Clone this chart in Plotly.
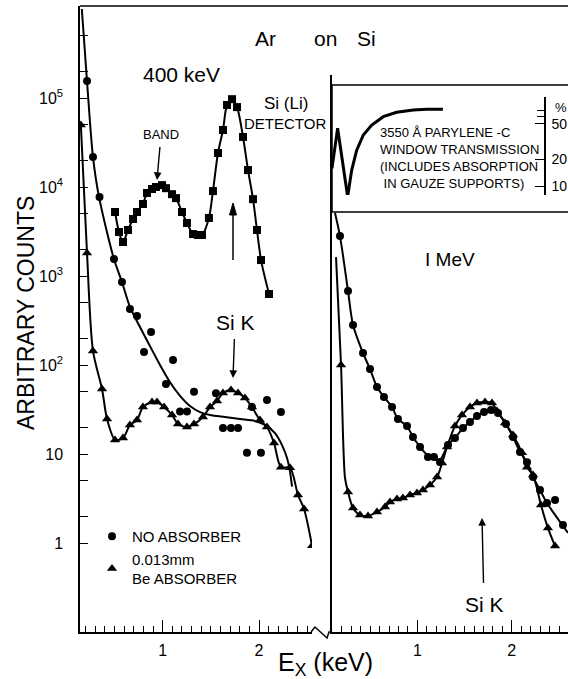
import plotly.graph_objects as go

W, H = 568, 679
FONT = "Liberation Sans"

# ---------------- data (400 keV panel) ----------------
# no absorber (circles)
l_circ_e = [0.214, 0.276, 0.344, 0.494, 0.577, 0.660, 0.733, 0.879, 0.806, 1.107, 1.034, 1.325,
            1.180, 1.252, 1.553, 1.626, 1.709, 1.782, 1.875, 2.020, 2.083, 2.228, 1.927]
l_circ_c = [1.55e5, 2.17e4, 7.7e3, 1.55e3, 857, 426, 355, 235, 140, 114, 61, 50,
            30, 30, 48, 19.6, 19.6, 19.6, 10.3, 10.3, 40.4, 29.6, 33.7]
# smooth fit through the no-absorber data
l_fit_e = [0.16, 0.214, 0.276, 0.339, 0.494, 0.577, 0.660, 0.764, 0.868, 0.972, 1.076, 1.180,
           1.283, 1.387, 1.491, 1.647, 1.803, 1.958, 2.062, 2.166, 2.239, 2.291, 2.322, 2.343]
l_fit_c = [1.0e6, 1.55e5, 2.17e4, 7.7e3, 1.55e3, 857, 449, 267, 163, 100, 64, 45,
           34.6, 29.6, 27.4, 26, 24.7, 23.5, 21.2, 17.2, 12.6, 9.0, 6.3, 4.3]
# 0.013 mm Be absorber (triangles)
l_tri_e = [0.15, 0.214, 0.276, 0.370, 0.422, 0.505, 0.588, 0.660, 0.733, 0.795, 0.889, 0.941,
           1.014, 1.097, 1.159, 1.252, 1.325, 1.418, 1.491, 1.564, 1.626, 1.709, 1.782, 1.854,
           1.927, 2.010, 2.083, 2.156, 2.228, 2.322, 2.405, 2.468, 2.551]
l_tri_c = [4.97e4, 1.81e3, 144, 53.7, 24.7, 14.4, 15.1, 21.2, 24.1, 33.7, 38.4, 38.4,
           33.7, 27.4, 21.7, 20.1, 21.7, 26, 33.7, 39.4, 48.5, 52.4, 48.5, 42.6,
           33.7, 24.1, 20.1, 13.3, 7.1, 7.0, 3.46, 2.41, 0.93]
# Si(Li) detector (squares)
det_e = [0.505, 0.546, 0.588, 0.640, 0.692, 0.733, 0.795, 0.837, 0.889, 0.930, 0.993, 1.034,
         1.097, 1.138, 1.200, 1.252, 1.315, 1.366, 1.408, 1.480, 1.522, 1.574, 1.626, 1.668,
         1.720, 1.772, 1.834, 1.886, 1.938, 1.979, 2.021, 2.104]
det_c = [5.24e3, 3.12e3, 2.41e3, 3.29e3, 4.37e3, 5.24e3, 6.44e3, 8.57e3, 9.5e3, 1.0e4, 1.05e4, 9.7e3,
         8.3e3, 7.5e3, 5.24e3, 3.94e3, 2.96e3, 2.89e3, 2.89e3, 4.49e3, 9.0e3, 2.41e4, 4.37e4, 8.35e4,
         9.7e4, 7.9e4, 3.65e4, 1.55e4, 7.3e3, 3.29e3, 1.51e3, 628]

# ---------------- data (1 MeV panel) ----------------
r_circ_e = [0.180, 0.265, 0.318, 0.424, 0.498, 0.572, 0.646, 0.731, 0.794, 0.890, 0.953, 1.028,
            1.112, 1.176, 1.239, 1.324, 1.398, 1.483, 1.557, 1.631, 1.706, 1.780, 1.854, 1.939,
            2.013, 2.087, 2.161, 2.225, 2.299, 2.373, 2.458, 2.542]
r_circ_c = [2.81e3, 678, 281, 136, 90, 56.6, 43.7, 33.7, 24.7, 20.6, 15.5, 12.0,
            9.26, 9.26, 8.13, 12.6, 15.1, 19.6, 22.9, 26.7, 29.6, 31.2, 28.9, 21.7,
            15.5, 10.5, 8.1, 5.5, 3.94, 2.81, 3.04, 1.59]
r_cfit_e = [0.127, 0.180, 0.265, 0.318, 0.424, 0.498, 0.572, 0.646, 0.731, 0.794, 0.890, 0.953,
            1.028, 1.112, 1.176, 1.239, 1.324, 1.398, 1.483, 1.557, 1.631, 1.706, 1.780, 1.854,
            1.939, 2.013, 2.087, 2.161, 2.225, 2.299, 2.373, 2.595]
r_cfit_c = [5.1e3, 2.81e3, 678, 281, 136, 90, 56.6, 43.7, 33.7, 24.7, 20.6, 15.5,
            12.0, 9.5, 8.8, 8.6, 12.6, 15.1, 19.6, 22.9, 26.7, 29.6, 31.2, 28.9,
            21.7, 15.5, 10.5, 8.1, 5.5, 3.94, 2.81, 1.3]
r_tri_e = [0.191, 0.265, 0.318, 0.392, 0.477, 0.572, 0.657, 0.710, 0.784, 0.847, 0.922, 0.996,
           1.059, 1.133, 1.208, 1.261, 1.314, 1.398, 1.472, 1.557, 1.631, 1.716, 1.790, 1.843,
           1.928, 2.013, 2.108, 2.161, 2.225, 2.309, 2.383, 2.458]
r_tri_c = [100, 3.74, 2.47, 2.06, 2.01, 2.23, 2.54, 2.89, 3.12, 3.2, 3.46, 3.65,
           3.94, 4.48, 5.5, 7.9, 12, 20.6, 27.4, 33.7, 37.4, 38.4, 37.4, 30.4,
           22.3, 16.3, 10.3, 7.1, 5.8, 2.67, 1.47, 0.925]
r_tfit_e = [0.138, 0.191, 0.233] + r_tri_e[1:]
r_tfit_c = [1.63e3, 100, 5.4] + r_tri_c[1:]

# ---------------- inset: window transmission (%) ----------------
trans_e = [0.095, 0.155, 0.261, 0.304, 0.357, 0.427, 0.516, 0.639, 0.78, 0.957, 1.10, 1.27]
trans_p = [15.8, 44.5, 7.6, 15.1, 25.3, 37.4, 48.4, 60.1, 67.3, 71.4, 72.8, 72.8]

y_major = [1, 10, 100, 1e3, 1e4, 1e5]
y_major_text = ["1", "10", "10<sup>2</sup>", "10<sup>3</sup>", "10<sup>4</sup>", "10<sup>5</sup>"]
y_minor = [2, 5, 20, 50, 200, 500, 2e3, 5e3, 2e4, 5e4, 2e5, 5e5]
x_major = [1, 2]
x_major_text = ["1", "2"]
t_ticks = [10, 20, 50]
t_text = ["10", "20", "50"]
t_minor = [60, 70]


def px(x):
    return x / W


def py(y):
    return 1 - y / H


K = "black"
fig = go.Figure()

mk_c = dict(symbol="circle", size=8, color=K)
mk_t = dict(symbol="triangle-up", size=9, color=K)
mk_s = dict(symbol="square", size=8, color=K)
ln = dict(color=K, width=2, shape="spline", smoothing=0.8)

# left panel
fig.add_trace(go.Scatter(x=l_fit_e, y=l_fit_c, mode="lines", line=ln, showlegend=False,
                         xaxis="x", yaxis="y"))
fig.add_trace(go.Scatter(x=l_tri_e, y=l_tri_c, mode="lines", line=ln, showlegend=False,
                         xaxis="x", yaxis="y"))
fig.add_trace(go.Scatter(x=det_e, y=det_c, mode="lines+markers", line=ln, marker=mk_s,
                         showlegend=False, xaxis="x", yaxis="y"))
fig.add_trace(go.Scatter(x=l_circ_e, y=l_circ_c, mode="markers", marker=mk_c,
                         name="NO ABSORBER", xaxis="x", yaxis="y"))
fig.add_trace(go.Scatter(x=l_tri_e, y=l_tri_c, mode="markers", marker=mk_t,
                         name="0.013mm<br>Be ABSORBER", xaxis="x", yaxis="y"))
# right panel
fig.add_trace(go.Scatter(x=r_cfit_e, y=r_cfit_c, mode="lines", line=ln, showlegend=False,
                         xaxis="x2", yaxis="y2"))
fig.add_trace(go.Scatter(x=r_tfit_e, y=r_tfit_c, mode="lines", line=ln, showlegend=False,
                         xaxis="x2", yaxis="y2"))
fig.add_trace(go.Scatter(x=r_circ_e, y=r_circ_c, mode="markers", marker=mk_c, showlegend=False,
                         xaxis="x2", yaxis="y2"))
fig.add_trace(go.Scatter(x=r_tri_e, y=r_tri_c, mode="markers", marker=mk_t, showlegend=False,
                         xaxis="x2", yaxis="y2"))
# inset
fig.add_trace(go.Scatter(x=trans_e, y=trans_p, mode="lines", line=dict(color=K, width=3),
                         showlegend=False, xaxis="x3", yaxis="y3"))

# geometry (pixels)
XL0, XL1 = 80, 312
XR0, XR1 = 332, 568
YB, YT = 632, 6
left_range = [(XL0 - 66.4) / 96.3, (XL1 - 66.4) / 96.3]
right_range = [(XR0 - 323) / 94.4, (XR1 - 323) / 94.4]

xcommon = dict(showline=True, linecolor=K, linewidth=1.5, ticks="inside", tickcolor=K,
               tickwidth=1.2, ticklen=12, tickvals=x_major, ticktext=x_major_text,
               showgrid=False, zeroline=False, automargin=False,
               tickfont=dict(family=FONT, size=16, color=K), ticklabelstandoff=3,
               minor=dict(dtick=0.1, tick0=0, ticks="inside", ticklen=6, tickcolor=K,
                          tickwidth=1.2, showgrid=False))

fig.update_layout(
    width=W, height=H, autosize=False,
    margin=dict(l=0, r=0, t=0, b=0),
    paper_bgcolor="white", plot_bgcolor="rgba(0,0,0,0)",
    font=dict(family=FONT, color=K),
    hovermode=False,
    xaxis=dict(domain=[px(XL0), px(XL1)], range=left_range, anchor="y", **xcommon),
    xaxis2=dict(domain=[px(XR0), px(XR1)], range=right_range, anchor="y2", **xcommon),
    yaxis=dict(domain=[py(YB), py(YT)], type="log", range=[-1, -1 + (YB - YT) / 89],
               anchor="x", showline=True, linecolor=K, linewidth=1.5, ticks="inside",
               tickcolor=K, tickwidth=1.2, ticklen=8, tickvals=y_major, ticktext=y_major_text,
               tickfont=dict(family=FONT, size=16, color=K), ticklabelstandoff=12,
               showgrid=False, zeroline=False, automargin=False,
               minor=dict(tickvals=y_minor, ticks="inside", ticklen=8, tickcolor=K,
                          tickwidth=1.2, showgrid=False)),
    yaxis2=dict(domain=[py(YB), py(75)], type="log", range=[-1, -1 + (YB - 75) / 89],
                anchor="x2", showline=True, linecolor=K, linewidth=1.5, ticks="",
                showticklabels=False, showgrid=False, zeroline=False, automargin=False),
    xaxis3=dict(domain=[px(XR0), px(XR1)], range=right_range, anchor="y3", visible=False),
    yaxis3=dict(domain=[py(195), py(97)], type="log", range=[1 + (186 - 195) / 89, 1 + (186 - 97) / 89],
                anchor="free", position=px(545), side="right", showline=True, linecolor=K,
                linewidth=1.5, ticks="inside", ticklen=9, tickcolor=K, tickwidth=1.2,
                tickvals=t_ticks, ticktext=t_text, ticklabelstandoff=3,
                minor=dict(tickvals=t_minor, ticks="inside", ticklen=7, tickcolor=K, tickwidth=1.2),
                tickfont=dict(family=FONT, size=14, color=K), showgrid=False, zeroline=False,
                automargin=False),
    legend=dict(x=px(92), y=py(520), xanchor="left", yanchor="top", bgcolor="rgba(0,0,0,0)",
                font=dict(family=FONT, size=15, color=K), itemwidth=30, tracegroupgap=2),
)

# frame decorations
fig.add_shape(type="line", xref="paper", yref="paper", x0=px(XL0), x1=1, y0=py(YT), y1=py(YT),
              line=dict(color=K, width=1.5))
fig.add_shape(type="rect", xref="paper", yref="paper", x0=px(XR0), x1=1.01, y0=py(212), y1=py(85),
              line=dict(color=K, width=1.5), fillcolor="white", layer="below")
fig.add_shape(type="path", xref="paper", yref="paper",
              path=f"M {px(311)},{py(632)} L {px(315)},{py(627)} L {px(327)},{py(638)} "
                   f"L {px(329)},{py(632)} L {px(XR0)},{py(632)}",
              line=dict(color=K, width=1.5))
# unlabeled upward arrow under the detector peak
fig.add_shape(type="line", xref="paper", yref="paper", x0=px(233), x1=px(233), y0=py(260), y1=py(212),
              line=dict(color=K, width=1.5))
fig.add_shape(type="path", xref="paper", yref="paper",
              path=f"M {px(229.5)},{py(215)} L {px(233)},{py(203)} L {px(236.5)},{py(215)} Z",
              line=dict(color=K, width=1), fillcolor=K)


def txt(x, y, s, size, **kw):
    d = dict(x=px(x), y=py(y), xref="paper", yref="paper", text=s, showarrow=False,
             font=dict(family=FONT, size=size, color=K), xanchor="center", yanchor="middle")
    d.update(kw)
    fig.add_annotation(**d)


def label_arrow(hx, hy, tx, ty, s, size, sss=0):
    fig.add_annotation(x=px(hx), y=py(hy), xref="paper", yref="paper", text=s,
                       showarrow=True, ax=tx - hx, ay=ty - hy, arrowhead=2, arrowsize=1.1,
                       arrowwidth=1.4, arrowcolor=K, standoff=0, startstandoff=sss,
                       font=dict(family=FONT, size=size, color=K))


txt(265, 38, "Ar", 21)
txt(325, 38, "on", 21)
txt(366, 38, "Si", 21)
txt(181, 74, "400 keV", 21)
txt(286, 103, "Si (Li)", 17)
txt(285, 123, "DETECTOR", 15)
label_arrow(157, 180, 161, 135, "BAND", 13, 3)
label_arrow(233, 378, 235, 322, "Si K", 21, 4)
txt(450, 259, "I MeV", 19)
label_arrow(482, 518, 484, 604, "Si K", 21, 8)
txt(378, 158, "3550 Å PARYLENE -C<br>WINDOW TRANSMISSION<br>(INCLUDES ABSORPTION<br> IN GAUZE SUPPORTS)",
    13, xanchor="left", align="left")
txt(553, 107, "%", 13, xanchor="left")
txt(26, 313, "ARBITRARY COUNTS", 23, textangle=-90)
txt(325, 664, "E<sub>X</sub> (keV)", 25)

fig.write_html("out.html")
